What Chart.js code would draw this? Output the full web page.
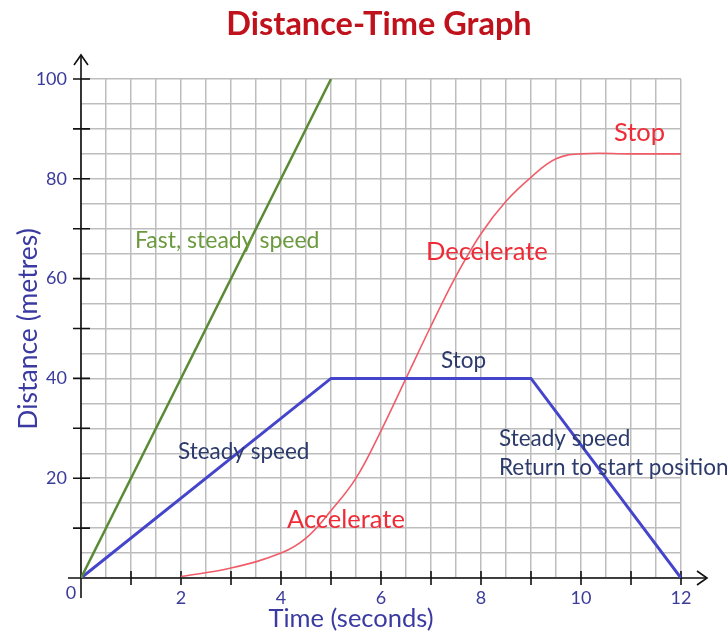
<!DOCTYPE html>
<html>
<head>
<meta charset="utf-8">
<script src="https://cdn.jsdelivr.net/npm/chart.js@4.4.1/dist/chart.umd.min.js"></script>
<style>
  html, body { margin: 0; padding: 0; background: #ffffff; }
  #wrap { width: 727px; height: 636px; position: relative; }
</style>
</head>
<body>
<div id="wrap"><canvas id="c" width="727" height="636"></canvas></div>
<script>
// ---- data ----
const titleText = "Distance-Time Graph";
const xTitle = "Time (seconds)";
const yTitle = "Distance (metres)";

const fastX = [0, 5];
const fastY = [0, 100];

const steadyX = [0, 5, 9, 12];
const steadyY = [0, 40, 40, 0];

const accelX = [2, 3, 4, 4.5, 5, 5.5, 6, 6.5, 7, 7.5, 8, 8.5, 9, 9.5, 10, 11, 12];
const accelY = [0.3, 2, 5, 8, 13.5, 20, 29.5, 40, 50.5, 60.5, 69, 75.5, 80.3, 84, 85, 85, 85];

const xTickLabels = [2, 4, 6, 8, 10, 12];
const yTickLabels = [20, 40, 60, 80, 100];

const noteTexts = ["Fast, steady speed", "Decelerate", "Stop", "Stop", "Steady speed", "Accelerate", "Steady speed", "Return to start position"];
const noteX =     [1.08, 6.9, 10.66, 7.2, 1.94, 4.12, 8.36, 8.36];
const noteY =     [67.6, 65.4, 89.2, 43.6, 25.4, 11.6, 28, 22];
const noteKind =  ["green", "red", "red", "blue", "blue", "red", "blue", "blue"];

// ---- styles ----
const FONT = "Lato, 'Open Sans', sans-serif";
const tickColor = "#3b3b9b";
const noteColors = { green: "#6b9a3e", red: "#ee2b36", blue: "#2c3a6c" };
const noteSizes = { green: 23, red: 25.5, blue: 22.5 };

function pts(xs, ys) { return xs.map((x, i) => ({ x: x, y: ys[i] })); }

const decor = {
  id: "decor",
  beforeDatasetsDraw(chart) {
    const ctx = chart.ctx;
    const xs = chart.scales.x, ys = chart.scales.y;
    const x0 = xs.getPixelForValue(0), y0 = ys.getPixelForValue(0);
    const xEnd = xs.getPixelForValue(12), yTop = ys.getPixelForValue(100);
    ctx.save();
    ctx.strokeStyle = "#111";
    ctx.lineWidth = 1.6;
    ctx.beginPath();
    ctx.moveTo(x0 - 13, y0); ctx.lineTo(xEnd + 26, y0);
    ctx.moveTo(x0, y0 + 20); ctx.lineTo(x0, yTop - 24);
    ctx.stroke();
    ctx.beginPath();
    ctx.moveTo(xEnd + 16, y0 - 7); ctx.lineTo(xEnd + 26, y0); ctx.lineTo(xEnd + 16, y0 + 7);
    ctx.moveTo(x0 - 7, yTop - 14); ctx.lineTo(x0, yTop - 24); ctx.lineTo(x0 + 7, yTop - 14);
    ctx.stroke();
    ctx.beginPath();
    for (let v = 1; v <= 12; v++) {
      const p = xs.getPixelForValue(v);
      ctx.moveTo(p, y0 - 7); ctx.lineTo(p, y0 + 7);
    }
    for (let v = 10; v <= 100; v += 10) {
      const p = ys.getPixelForValue(v);
      ctx.moveTo(x0 - 8, p); ctx.lineTo(x0 + 9, p);
    }
    ctx.stroke();
    ctx.restore();
  },
  afterDraw(chart) {
    const ctx = chart.ctx;
    const xs = chart.scales.x, ys = chart.scales.y;
    const x0 = xs.getPixelForValue(0), y0 = ys.getPixelForValue(0);
    ctx.save();
    ctx.fillStyle = "#c0121c";
    ctx.font = "bold 32.5px " + FONT;
    ctx.textAlign = "center"; ctx.textBaseline = "middle";
    ctx.fillText(titleText, 379, 25);
    ctx.fillStyle = "#3a3aa2";
    ctx.font = "25.5px " + FONT;
    ctx.fillText(xTitle, 351, 619);
    ctx.save();
    ctx.translate(28, 329); ctx.rotate(-Math.PI / 2);
    ctx.font = "26.5px " + FONT;
    ctx.fillText(yTitle, 0, 0);
    ctx.restore();
    ctx.fillStyle = tickColor;
    ctx.font = "18px " + FONT;
    ctx.fillText("0", x0 - 10, y0 + 15);
    ctx.textAlign = "left";
    for (let i = 0; i < noteTexts.length; i++) {
      const k = noteKind[i];
      ctx.fillStyle = noteColors[k];
      ctx.font = noteSizes[k] + "px " + FONT;
      ctx.fillText(noteTexts[i], xs.getPixelForValue(noteX[i]), ys.getPixelForValue(noteY[i]));
    }
    ctx.restore();
  }
};

new Chart(document.getElementById("c"), {
  type: "scatter",
  data: {
    datasets: [
      { data: pts(fastX, fastY), showLine: true, borderColor: "#5b8a35", borderWidth: 2.5, pointRadius: 0, tension: 0 },
      { data: pts(steadyX, steadyY), showLine: true, borderColor: "#4545cc", borderWidth: 3, pointRadius: 0, tension: 0 },
      { data: pts(accelX, accelY), showLine: true, borderColor: "#f05c68", borderWidth: 1.6, pointRadius: 0, tension: 0.4 }
    ]
  },
  options: {
    responsive: false,
    animation: false,
    devicePixelRatio: 1,
    layout: { padding: { top: 79, right: 46, left: 0, bottom: 0 } },
    plugins: { legend: { display: false }, tooltip: { enabled: false }, title: { display: false } },
    scales: {
      x: {
        type: "linear", min: 0, max: 12,
        afterFit(s) { s.height = 58; },
        ticks: {
          stepSize: 0.5, autoSkip: false, maxRotation: 0, padding: 9,
          color: tickColor, font: { family: FONT, size: 18 },
          callback: (v) => xTickLabels.includes(v) ? String(v) : ""
        },
        grid: { color: "#bdbdbd", lineWidth: 1.5, drawTicks: false },
        border: { display: false }
      },
      y: {
        type: "linear", min: 0, max: 100,
        afterFit(s) { s.width = 81; },
        ticks: {
          stepSize: 5, autoSkip: false, padding: 14,
          color: tickColor, font: { family: FONT, size: 18 },
          callback: (v) => yTickLabels.includes(v) ? String(v) : ""
        },
        grid: { color: "#bdbdbd", lineWidth: 1.5, drawTicks: false },
        border: { display: false }
      }
    }
  },
  plugins: [decor]
});
</script>
</body>
</html>
